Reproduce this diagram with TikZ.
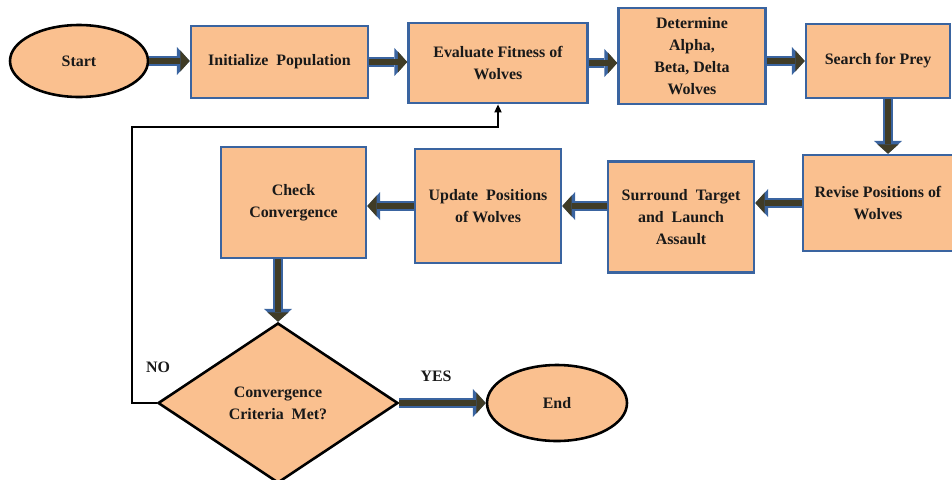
\documentclass[tikz,border=0pt]{standalone}
\usepackage{fontspec}
\setmainfont{Liberation Serif}
\usepackage{tikz}
\usetikzlibrary{shapes.geometric,arrows.meta}
\definecolor{boxfill}{RGB}{250,192,143}
\definecolor{boxline}{RGB}{58,100,160}
\definecolor{shaft}{RGB}{64,60,38}
\begin{document}
\begin{tikzpicture}[every node/.style={font=\fontsize{13.6}{18.7}\selectfont\bfseries, text=black!90, align=center},
		proc/.style={rectangle, draw=boxline, line width=2.2pt, fill=boxfill, inner sep=2pt},
		term/.style={ellipse, draw=black, line width=2.2pt, fill=boxfill, inner sep=0pt},
		flow/.style={line width=5pt, draw=shaft, -{Triangle[length=8pt,width=18pt,line width=0pt]},
			preaction={draw=boxline, line width=8pt, -{Triangle[length=11pt,width=24pt,line width=0pt]}}},
		back/.style={line width=1.6pt, -{Triangle[length=7pt,width=6pt]}}]
			\useasboundingbox (0,0) rectangle (28.56,-14.37);
			\node[term, minimum width=4.14cm, minimum height=2.16cm] at (2.37,-1.83) (start){Start};
			\node[proc, minimum width=5.31cm, minimum height=2.16cm] at (8.385,-1.86) (init){Initialize\ \ Population};
			\node[proc, minimum width=5.37cm, minimum height=2.4cm] at (14.94,-1.89) (eval){Evaluate Fitness of\\Wolves};
			\node[proc, minimum width=4.41cm, minimum height=2.88cm] at (20.76,-1.68) (det){Determine\\Alpha,\\Beta, Delta\\Wolves};
			\node[proc, minimum width=4.32cm, minimum height=2.22cm] at (26.34,-1.83) (search){Search for Prey};
			\node[proc, minimum width=4.5cm, minimum height=2.88cm] at (26.34,-6.09) (revise){Revise Positions of\\Wolves};
			\node[proc, minimum width=4.38cm, minimum height=3.33cm] at (20.43,-6.51) (surround){Surround\ \ Target\\and\ \ Launch\\Assault};
			\node[proc, minimum width=4.38cm, minimum height=3.42cm] at (14.64,-6.18) (update){Update\ \ Positions\\of Wolves};
			\node[proc, minimum width=4.35cm, minimum height=3.33cm] at (8.805,-6.075) (check){Check\\Convergence};
			\node[diamond, draw=black, line width=2.2pt, fill=boxfill, inner sep=0pt, minimum width=7.2cm, minimum height=4.8cm] at (8.34,-12.09) (dec){Convergence\\Criteria\ \ Met?};
			\node[term, minimum width=4.2cm, minimum height=2.28cm] at (16.71,-12.09) (end){End};
			\node at (4.74,-11.01) (no){NO};
			\node at (13.08,-11.28) (yes){YES};
			\coordinate (loop) at (3.96,-3.81);
			% main flow
			\draw[flow] (start.east) -- (start.east -| init.west);
			\draw[flow] (init.east) -- (init.east -| eval.west);
			\draw[flow] (eval.east) -- (eval.east -| det.west);
			\draw[flow] (det.east |- search.west) -- (search.west);
			\draw[flow] ([xshift=0.3cm]search.south) -- ([xshift=0.3cm]revise.north);
			\draw[flow] (revise.west) -- (revise.west -| surround.east);
			\draw[flow] (surround.west |- update.east) -- (update.east);
			\draw[flow] (update.west) -- (update.west -| check.east);
			\draw[flow] (check.south -| dec.north) -- (dec.north);
			\draw[flow] (dec.east) -- (end.west);
			% back to fitness
			\draw[back] (dec.west) -| (loop) -| (eval.south);
		\end{tikzpicture}
\end{document}
